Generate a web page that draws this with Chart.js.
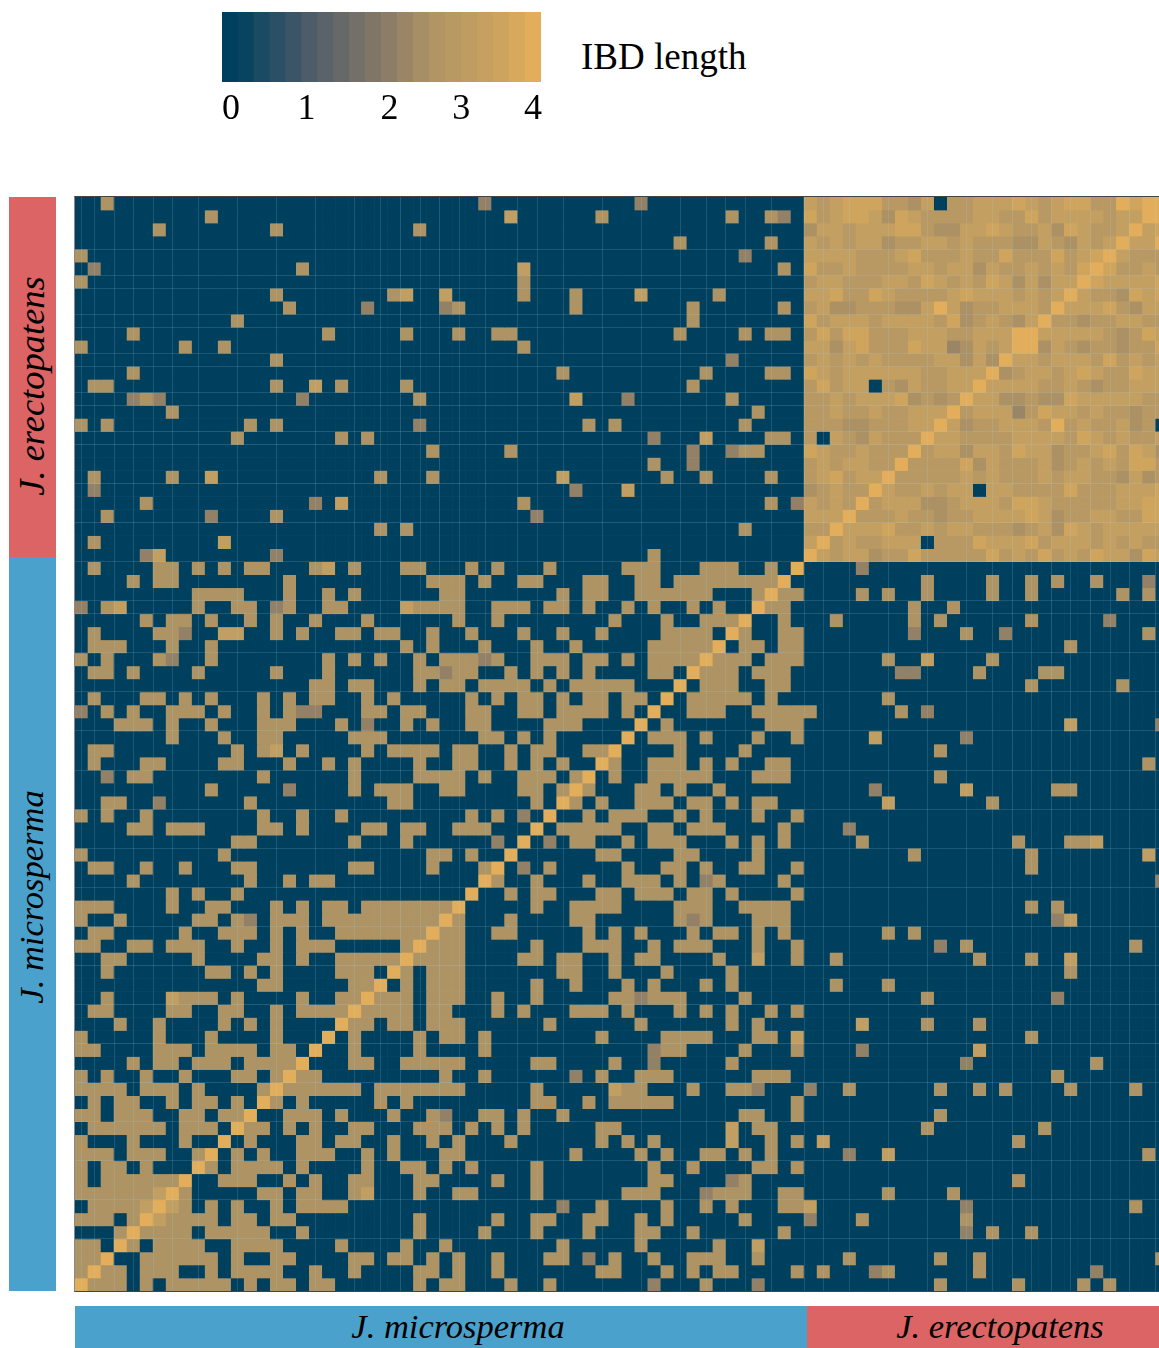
<!DOCTYPE html>
<html>
<head>
<meta charset="utf-8">
<script src="https://cdn.jsdelivr.net/npm/chart.js@4/dist/chart.umd.js"></script>
<style>
html,body{margin:0;padding:0;background:#fff;width:1159px;height:1348px;overflow:hidden}
.strip{position:absolute}
.lab{position:absolute;font-family:"Liberation Serif",serif;font-style:italic;font-size:34.5px;color:#000;white-space:nowrap;line-height:1}
.rot{transform:translate(-50%,-50%) rotate(-90deg);transform-origin:center}
.hor{transform:translate(-50%,-50%)}
#plotWrap{position:absolute;left:74px;top:196px;width:1085px;height:1094px;border-top:1px solid #444;border-left:1px solid #8a8a8a;border-bottom:1px solid #444}
#plot{display:block;width:1084px;height:1094px}
#legend{position:absolute;left:202px;top:0;width:360px;height:130px}
#legendTitle{position:absolute;left:581px;top:38px;font-family:"Liberation Serif",serif;font-size:37px;line-height:1;color:#000;white-space:nowrap}
</style>
</head>
<body>
<canvas id="legend" width="360" height="130"></canvas>
<div id="legendTitle">IBD length</div>

<div class="strip" style="left:9px;top:197px;width:47px;height:360px;background:#dc6464"></div>
<div class="strip" style="left:9px;top:557px;width:47px;height:734px;background:#4aa2cc"></div>
<div class="lab rot" style="left:32px;top:386px;font-size:36.5px">J. erectopatens</div>
<div class="lab rot" style="left:31px;top:897px">J. microsperma</div>

<div id="plotWrap"><canvas id="plot" width="1084" height="1094"></canvas></div>

<div class="strip" style="left:75px;top:1306px;width:732px;height:42px;background:#4aa2cc"></div>
<div class="strip" style="left:807px;top:1306px;width:352px;height:42px;background:#dc6464"></div>
<div class="lab hor" style="left:458px;top:1326px">J. microsperma</div>
<div class="lab hor" style="left:1000px;top:1326px">J. erectopatens</div>

<script>
// ---------- data ----------
const rowCount = 84;
const visibleCols = 83.26;
const legendTickValues = [0, 1, 2, 3, 4];
const legendTickSlots = [0.56, 5.3, 10.5, 15, 19.5];
const legendSteps = [0,0.1,0.35,0.55,0.75,1,1.2,1.4,1.6,1.8,2,2.2,2.4,2.6,2.8,3,3.2,3.45,3.7,4];

// columns holding a shared IBD segment, one string per row (rows 0-83, top to bottom)
const ibdRows = [
"2 31 43","10 33 40 50 53 54","6 15 26","46 53","0 51","1 17 34 54","0 34","15 24 25 28 34 38 43 49",
"16 22 28 29 38 47 54","12 47","4 19 25 29 32 33 46 51 53 54","0 8 11 34","15 50","4 37 48 53 54",
"1 2 15 18 20 25 47","4 5 6 17 26 38 42 50","7 52","0 2 13 15 26 39 41 51","12 20 22 44 48 53 54",
"27 33 47 50 51 52","44 47","1 7 10 23 27 37 45 48 53","1 38 42","5 18 20 34 53 55","2 10 15 35",
"23 25 51","1 11","5 6 15 44",
"1 6 7 9 11 13 14 18 19 21 25 26 30 32 36 42 43 44 48 49 50 53",
"4 6 7 16 27 28 29 31 34 35 39 40 43 44 46 47 48 49 50 51 52 53",
"9 10 11 12 16 19 21 28 29 37 39 40 43 44 45 46 47 48 52",
"0 2 3 9 12 13 15 16 19 20 25 26 27 28 29 32 33 34 36 37 39 42 44 47 49",
"5 7 8 10 13 15 18 22 29 32 41 45 48 49 50",
"1 6 7 8 11 12 15 17 20 21 23 24 27 30 34 37 40 45 46 47 48",
"1 2 3 7 10 25 27 31 35 38 44 45 46 47 48",
"0 2 6 7 10 19 21 23 26 28 29 30 31 32 35 36 37 39 40 42 44 45 46 47",
"1 2 4 9 15 19 26 27 28 29 30 33 35 37 39 44 45",
"18 19 21 22 26 28 29 31 32 33 34 36 38 39 40 41 42",
"1 5 6 8 10 14 16 18 19 22 24 30 32 34 35 37 39 40 42 43",
"0 2 4 7 8 9 11 14 16 17 18 22 23 25 26 30 31 34 35 37 38 39 40 42",
"3 4 5 7 10 14 15 16 20 22 25 27 30 31 36 37 38",
"7 11 14 15 21 22 23 31 32 34 36",
"1 2 12 14 15 17 22 24 25 26 27 29 30 33 35 36 39 40",
"1 5 6 11 12 16 19 21 26 29 30 33 35 37",
"2 4 5 14 21 26 27 28 29 31 34 35 36 38",
"10 16 21 23 24 25 28 29 34 35 37",
"2 3 6 13 24 25 35",
"0 2 5 14 17 20 30 32 34",
"4 5 7 8 9 14 15 17 22 23 25 26 29 30 31",
"12 13 21 25 32",
"0 11 27 28 30",
"1 2 5 8 12 13 21 22 27 31",
"4 13 16 18 19",
"7 9 12",
"0 1 2 7 10 11 15 17 19 20 22 23 24 25 26 27 28",
"0 3 9 10 12 13 15 16 17 19 20 21 22 23 24 25 26 27",
"1 2 8 11 12 13 15 17 20 21 22 23 24 25 26",
"0 1 4 5 7 8 9 12 15 17 18 19 25",
"2 3 9 14 15 17 20 21 22 23 24",
"2 10 11 13 15 20 21 22",
"14 15 21 22",
"2 7 8 9 10 12 17 20 21",
"1 2 7 8 11 12 15 17 18 19 20",
"3 6 11 13 15",
"0 6 10 15",
"0 1 6 7 8 10 11 12 13 15 16",
"4 6 7 9 10 11 13 14 15 16",
"0 2 5 8 12 13 15",
"0 1 2 3 5 6 7 9 14",
"1 3 4 7 9 10 12",
"0 1 3 4 5 8 9 11 12",
"1 2 3 4 5 6 8 9 10",
"0 4 8",
"0 1 2 4 5 6 9",
"0 2 3 5",
"0 2 3 4 5 6 7",
"0 1 2 3 4 5 6",
"1 2 3 4",
"0 1 2 4",
"3",
"0 1",
"0 1",
"0",
""
];
const baseLength = 2.5;
const darkLength = 2.1;
const brightLength = 3.1;
const diagonalLength = 4;
const darkCells = [[0,31],[0,43],[1,54],[4,51],[5,1],[8,22],[8,28],[12,50],[15,4],[15,6],[15,17],[15,42],[17,26],[18,44],[19,47],[19,50],[20,47],[22,1],[22,38],[23,18],[23,55],[24,10],[24,35],[27,5],[27,15],[31,15],[31,0],[33,8],[35,7],[39,0],[39,17],[39,18],[40,22],[46,6],[44,2],[45,16],[55,13],[35,31],[36,28],[47,34],[49,32]];
const brightCells = [[14,18],[1,33],[7,25],[7,28],[7,43],[18,48],[15,38],[21,10],[21,37],[23,20],[26,11],[27,6],[28,19],[31,3],[31,25],[33,11],[33,12],[42,15],[5,34],[22,42],[61,7],[76,6],[77,5]];

// J. erectopatens block: rows 0-26, columns from 56; each digit is a level in erectoLevels
const erectoLevels = [0,0,0,2.2,2.45,2.85,3.15,3.5,4];
const erectoRows = [
"656777554605566676567755878","75677647655556655756666566","4665666775446676556476556",
"656566455665655544654656","66665556755565575557567","7556555566566465565657",
"566555665765657646466","66755765555676665656","5644555446864556665","756665666657456546",
"57577555666556668","6646755576634656","565656555566464","76566666655666","5756605465566",
"556566674545","55655655666","5554455566","506546555","76556555","5656655","567566",
"45655","6565","666","55","6"
];

// colour scale of the legend
const colorStops = [[0,[0,64,95]],[1,[78,92,106]],[2,[140,125,104]],[2.5,[174,147,100]],[3,[190,156,98]],[3.5,[207,165,94]],[4,[227,174,91]]];

// faint resampling lines visible over the cells, by cell boundary
const gridCols = [1,2,4,5,7,8,11,14,17,20,23,24,26,27,29,30,33,35,36,39,42,45,48,49,51,52,55,57,58,61,64,67,70,71,73,74,76,77,79,80,82];
const gridRows = [4,6,7,9,10,12,13,15,16,18,19,22,25,28,31,32,35,38,41,44,47,50,53,56,59,62,65,68,71,74,77,80];

// ---------- build ----------
function colorFor(v){
  for(let i=1;i<colorStops.length;i++){
    const a=colorStops[i-1],b=colorStops[i];
    if(v<=b[0]){
      const t=(v-a[0])/(b[0]-a[0]);
      const c=a[1].map((x,k)=>Math.round(x+(b[1][k]-x)*t));
      return `rgb(${c[0]},${c[1]},${c[2]})`;
    }
  }
  return 'rgb(227,174,91)';
}
const matrix = Array.from({length:rowCount},()=>new Array(rowCount).fill(0));
function setBoth(r,c,v){ matrix[r][c]=v; matrix[rowCount-1-c][rowCount-1-r]=v; }
ibdRows.forEach((s,r)=>{ if(s) s.split(' ').forEach(c=>setBoth(r,+c,baseLength)); });
darkCells.forEach(([r,c])=>setBoth(r,c,darkLength));
brightCells.forEach(([r,c])=>setBoth(r,c,brightLength));
erectoRows.forEach((s,r)=>{ [...s].forEach((d,k)=>setBoth(r,56+k,erectoLevels[+d])); });
for(let r=0;r<rowCount;r++){ matrix[r][rowCount-1-r]=diagonalLength; }

const datasets = matrix.map((row,r)=>({
  label:'row '+r,
  data: row.map((v,c)=>({x:c+0.5,y:[r,r+1]})),
  backgroundColor: row.map(colorFor),
  borderWidth:0,
  grouped:false,
  categoryPercentage:1,
  barPercentage:1
}));

const faintGrid = {display:true,drawTicks:false,z:1,lineWidth:1,color:'rgba(170,215,240,0.16)'};
new Chart(document.getElementById('plot'),{
  type:'bar',
  data:{datasets},
  options:{
    responsive:false,maintainAspectRatio:false,animation:false,devicePixelRatio:1,
    layout:{padding:0},
    plugins:{legend:{display:false},tooltip:{enabled:false},title:{display:false}},
    events:[],
    scales:{
      x:{type:'linear',offset:false,min:0,max:visibleCols,grid:faintGrid,border:{display:false},
        ticks:{display:false},
        afterBuildTicks:s=>{s.ticks=gridCols.map(v=>({value:v}));}},
      y:{type:'linear',min:0,max:rowCount,reverse:true,grid:faintGrid,border:{display:false},
        ticks:{display:false},
        afterBuildTicks:s=>{s.ticks=gridRows.map(v=>({value:v}));}}
    }
  }
});

new Chart(document.getElementById('legend'),{
  type:'bar',
  data:{datasets:[{
    label:'IBD length',
    data:legendSteps.map((v,i)=>({x:i+0.5,y:[0,1]})),
    backgroundColor:legendSteps.map(colorFor),
    borderWidth:0,categoryPercentage:1,barPercentage:1
  }]},
  options:{
    responsive:false,maintainAspectRatio:false,animation:false,devicePixelRatio:1,
    layout:{padding:{left:20,right:21,top:12,bottom:0}},
    plugins:{legend:{display:false},tooltip:{enabled:false}},
    events:[],
    scales:{
      x:{type:'linear',offset:false,min:0,max:20,
        grid:{display:false,drawTicks:false},border:{display:false},
        afterBuildTicks:s=>{s.ticks=legendTickSlots.map(v=>({value:v}));},
        afterFit:s=>{s.height=48;},
        ticks:{autoSkip:false,maxRotation:0,padding:6,color:'#000',
          font:{family:'"Liberation Serif",serif',size:36},
          callback:(v,i)=>String(legendTickValues[i])}
      },
      y:{type:'linear',min:0,max:1,display:false}
    }
  }
});
</script>
</body>
</html>
